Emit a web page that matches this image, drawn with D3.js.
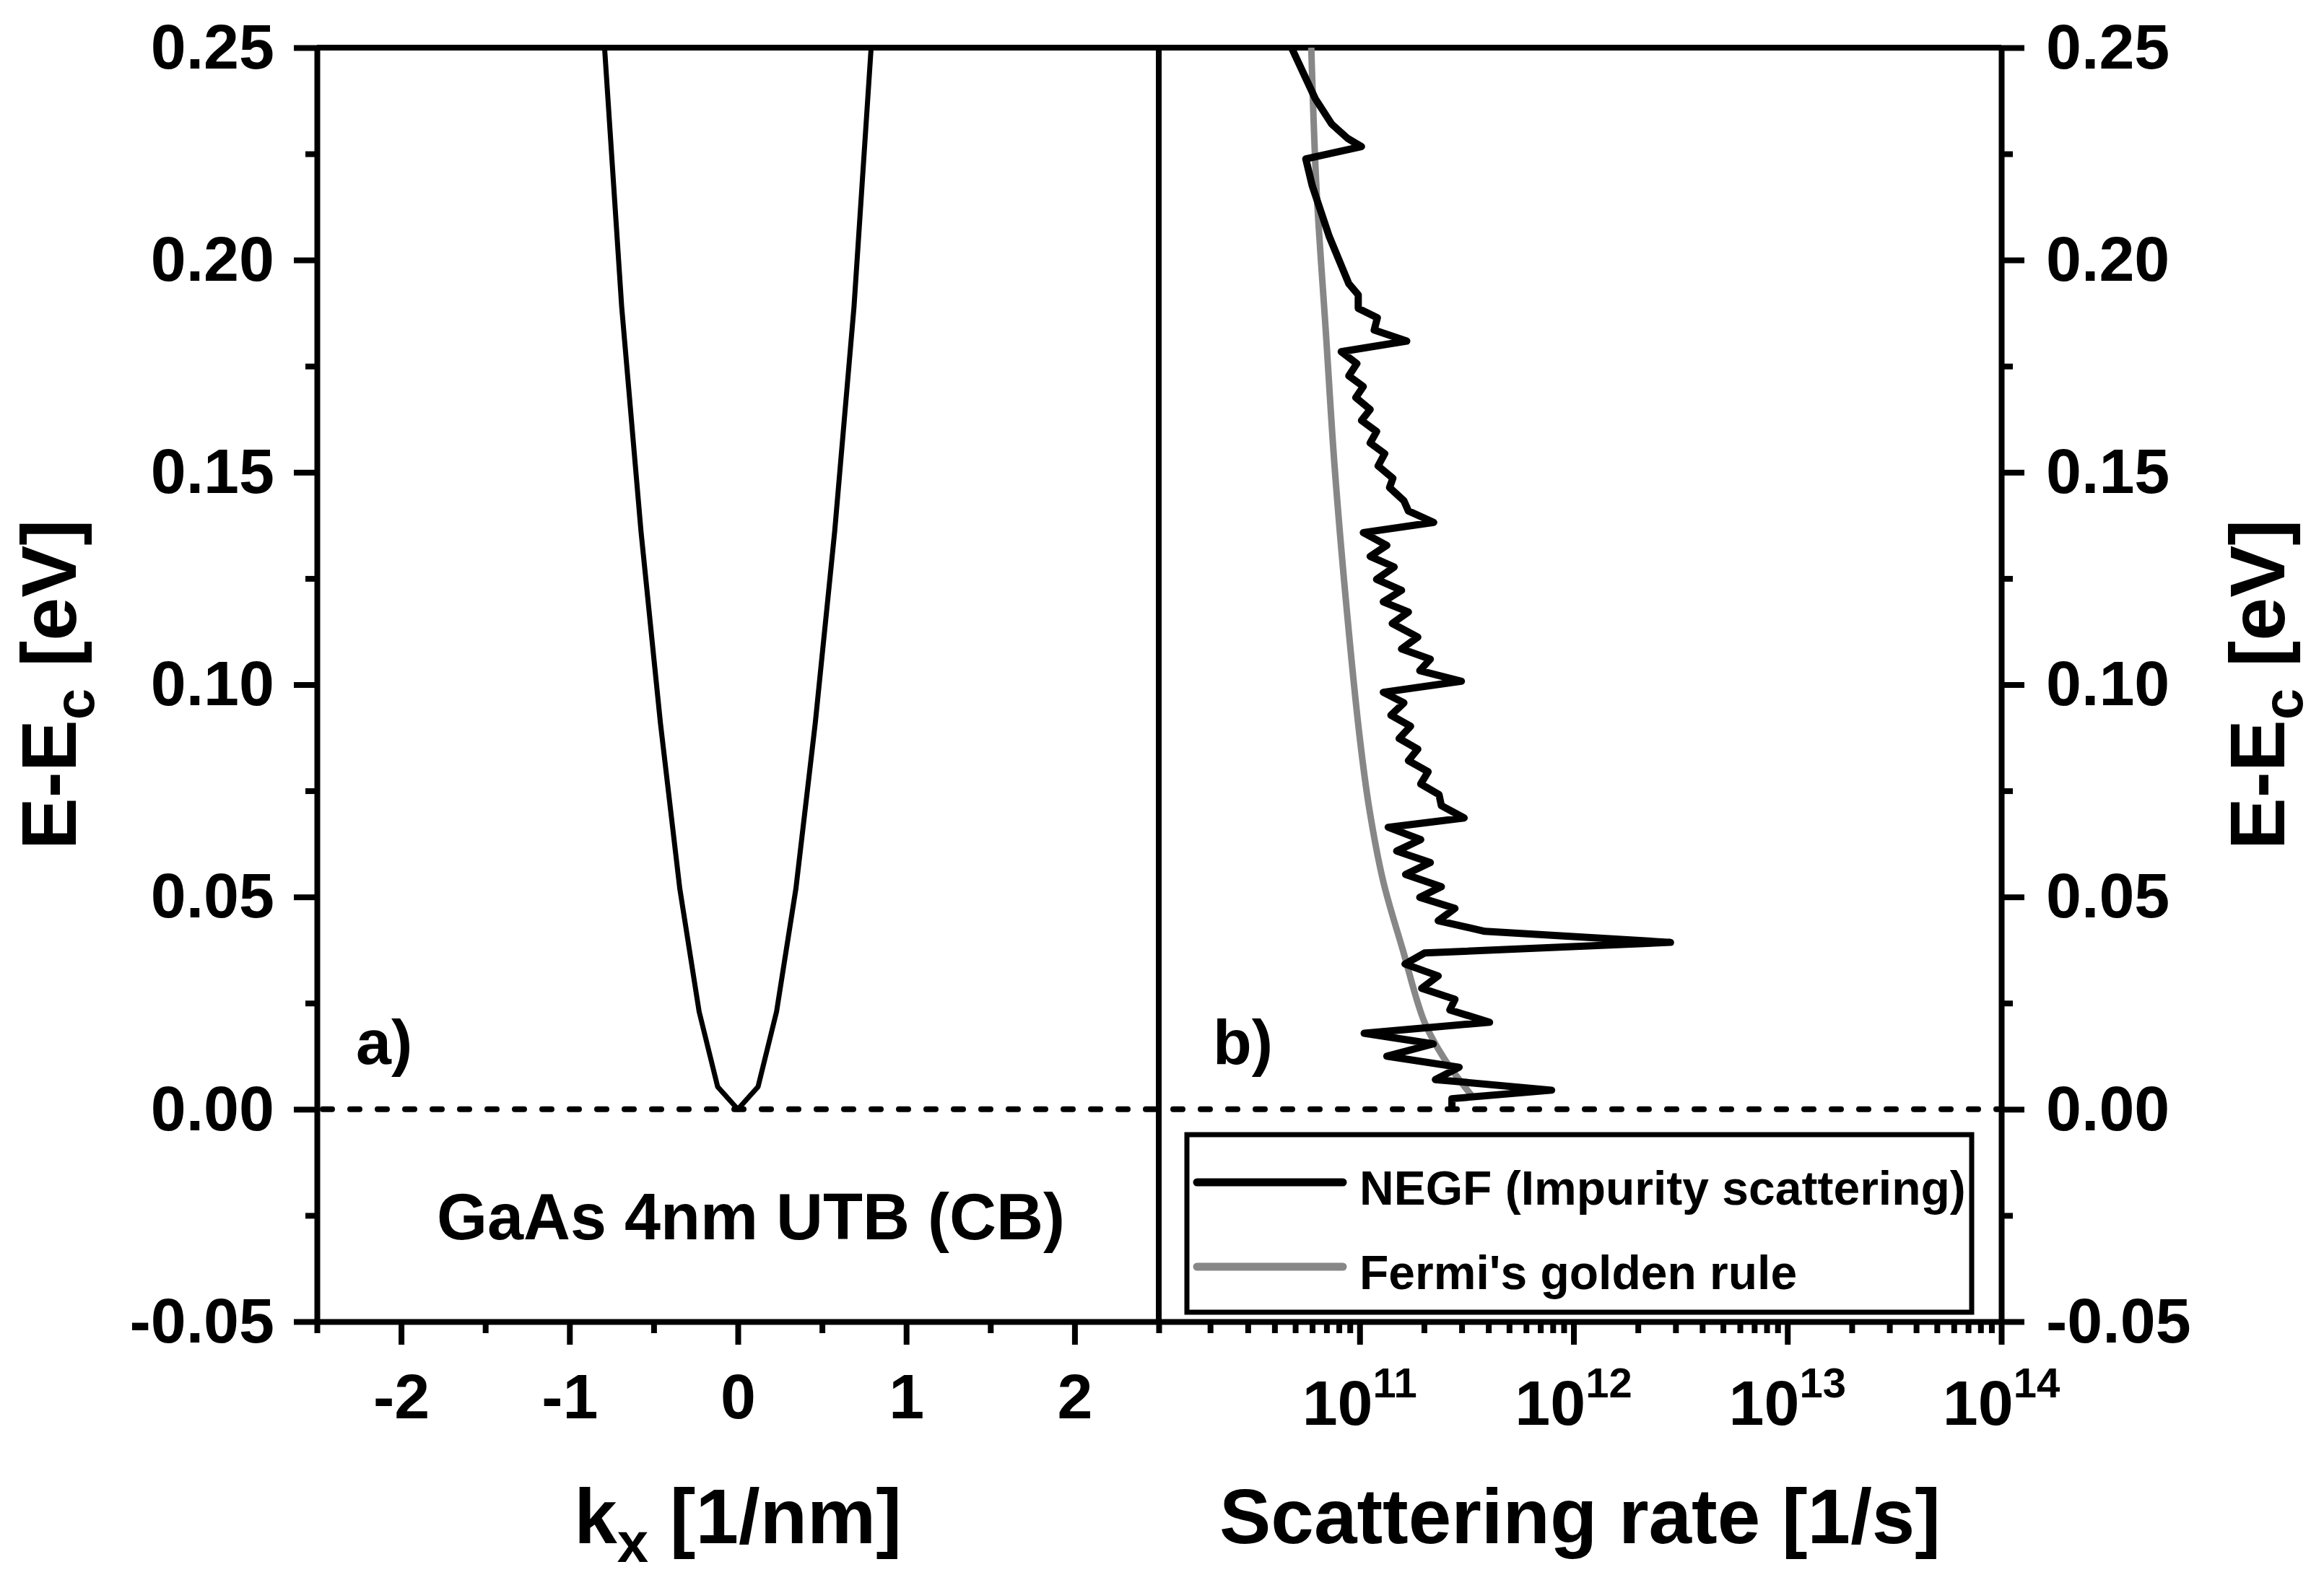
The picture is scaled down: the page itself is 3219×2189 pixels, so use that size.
<!DOCTYPE html>
<html>
<head>
<meta charset="utf-8">
<script src="https://cdn.jsdelivr.net/npm/d3@7"></script>
<style>
  body { margin: 0; background: #fff; }
  text { font-family: "Liberation Sans", Arial, sans-serif; font-weight: bold; }
</style>
</head>
<body>
<div id="chart"></div>
<script>
// ---- data ----
// a) band dispersion (CB, GaAs 4nm UTB)
var bandK = [-0.80, -0.69, -0.575, -0.46, -0.345, -0.23, -0.12, 0, 0.12, 0.23, 0.345, 0.46, 0.575, 0.69, 0.80];
var bandE = [0.255, 0.189, 0.136, 0.091, 0.052, 0.023, 0.0053, 0, 0.0053, 0.023, 0.052, 0.091, 0.136, 0.189, 0.255];

// b) NEGF impurity scattering rate
var negfE = [0.250, 0.238, 0.232, 0.2286, 0.2267, 0.2238, 0.2175, 0.2056, 0.1944, 0.1918,
             0.1886, 0.1864, 0.1835, 0.1809, 0.1784, 0.1756, 0.1727, 0.1702, 0.1676, 0.1648,
             0.1622, 0.1596, 0.1569, 0.1544, 0.1515, 0.1486, 0.1464, 0.1433, 0.1409, 0.1382,
             0.1358, 0.1328, 0.1302, 0.1277, 0.1248, 0.1222, 0.1195, 0.1171, 0.1144, 0.1112,
             0.1084, 0.1060, 0.1033, 0.1008, 0.0982, 0.0957, 0.0928, 0.0902, 0.0873, 0.0848,
             0.0821, 0.0795, 0.0766, 0.0741, 0.0715, 0.0686, 0.0664, 0.0635, 0.0608, 0.0581,
             0.0553, 0.0524, 0.0499, 0.0473, 0.0444, 0.0419, 0.0393, 0.0368, 0.0342, 0.0314,
             0.0285, 0.0259, 0.0234, 0.0205, 0.0179, 0.0154, 0.0125, 0.0099, 0.0070, 0.0045,
             0.0025, 0.0000];
var negfRate = [4.8e10, 6.2e10, 7.4e10, 8.8e10, 1.02e11, 5.6e10, 6.0e10, 7.2e10, 8.9e10, 9.85e10,
                9.85e10, 1.21e11, 1.17e11, 1.66e11, 8.2e10, 9.7e10, 8.9e10, 1.04e11, 9.6e10, 1.12e11,
                1.02e11, 1.20e11, 1.12e11, 1.31e11, 1.22e11, 1.43e11, 1.38e11, 1.61e11, 1.69e11, 2.22e11,
                1.04e11, 1.34e11, 1.12e11, 1.45e11, 1.20e11, 1.57e11, 1.29e11, 1.69e11, 1.42e11, 1.87e11,
                1.57e11, 2.14e11, 1.91e11, 2.99e11, 1.29e11, 1.61e11, 1.40e11, 1.73e11, 1.53e11, 1.87e11,
                1.69e11, 2.09e11, 1.93e11, 2.35e11, 2.41e11, 3.08e11, 1.36e11, 1.93e11, 1.49e11, 2.14e11,
                1.64e11, 2.41e11, 1.91e11, 2.79e11, 2.33e11, 3.85e11, 2.84e12, 2.01e11, 1.63e11, 2.33e11,
                1.95e11, 2.79e11, 2.64e11, 4.05e11, 1.05e11, 2.21e11, 1.34e11, 2.92e11, 2.26e11, 7.9e11,
                2.7e11, 2.7e11];

// b) Fermi's golden rule
var fgrE = [0.25, 0.217, 0.183, 0.152, 0.118, 0.0877, 0.0707, 0.0536, 0.0376, 0.0205, 0.012, 0.0033];
var fgrRate = [5.94e10, 6.28e10, 6.95e10, 7.62e10, 8.69e10, 1.0e11, 1.11e11, 1.29e11, 1.59e11, 2.01e11, 2.48e11, 3.33e11];

var energyTicks = [-0.05, 0, 0.05, 0.10, 0.15, 0.20, 0.25];
var energyMinor = [-0.025, 0.025, 0.075, 0.125, 0.175, 0.225];
var kTicks = [-2, -1, 0, 1, 2];
var kMinor = [-2.5, -1.5, -0.5, 0.5, 1.5, 2.5];
var rateTicks = [1e11, 1e12, 1e13, 1e14];
var rateExp = ["11", "12", "13", "14"];

// ---- layout ----
var svgWidth = 3219;
var svgHeight = 2189;
var plotTop = 66, plotBottom = 1831;
var leftX0 = 439, splitX = 1605, rightX1 = 2772;
var lw = 8;

var svg = d3.select("#chart").append("svg")
  .attr("width", svgWidth)
  .attr("height", svgHeight);

var y = d3.scaleLinear().domain([-0.05, 0.25]).range([plotBottom, plotTop]);
var xK = d3.scaleLinear().domain([-2.5, 2.5]).range([leftX0, splitX]);
var xR = d3.scaleLog().domain([1.15e10, 1e14]).range([splitX, rightX1]);

var rateMinor = [];
[1e10, 1e11, 1e12, 1e13].forEach(function(dec) {
  for (var m = 2; m <= 9; m++) {
    var v = m * dec;
    if (v > 1.15e10 && v < 1e14) rateMinor.push(v);
  }
});

var defs = svg.append("defs");
defs.append("clipPath").attr("id", "clipA")
  .append("rect").attr("x", leftX0).attr("y", plotTop)
  .attr("width", splitX - leftX0).attr("height", plotBottom - plotTop);
defs.append("clipPath").attr("id", "clipB")
  .append("rect").attr("x", splitX).attr("y", plotTop)
  .attr("width", rightX1 - splitX).attr("height", plotBottom - plotTop);

function styleAxis(g, fontSize) {
  g.attr("font-family", null).attr("font-size", null);
  g.select(".domain").attr("stroke-width", lw);
  g.selectAll(".tick line").attr("stroke-width", lw);
  g.selectAll(".tick text")
    .attr("font-size", fontSize)
    .attr("fill", "#000");
}

// left y axis
var gyl = svg.append("g").attr("transform", "translate(" + leftX0 + ",0)")
  .call(d3.axisLeft(y).tickValues(energyTicks).tickSize(32).tickSizeOuter(0).tickPadding(27)
    .tickFormat(function(d) { return d.toFixed(2); }));
styleAxis(gyl, 88);
svg.append("g").attr("transform", "translate(" + leftX0 + ",0)")
  .call(d3.axisLeft(y).tickValues(energyMinor).tickSize(16).tickSizeOuter(0).tickFormat(""))
  .call(function(g) { styleAxis(g, 88); g.select(".domain").remove(); });

// right y axis
var gyr = svg.append("g").attr("transform", "translate(" + rightX1 + ",0)")
  .call(d3.axisRight(y).tickValues(energyTicks).tickSize(32).tickSizeOuter(0).tickPadding(30)
    .tickFormat(function(d) { return d.toFixed(2); }));
styleAxis(gyr, 88);
svg.append("g").attr("transform", "translate(" + rightX1 + ",0)")
  .call(d3.axisRight(y).tickValues(energyMinor).tickSize(16).tickSizeOuter(0).tickFormat(""))
  .call(function(g) { styleAxis(g, 88); g.select(".domain").remove(); });

// bottom axis a)
var gxk = svg.append("g").attr("transform", "translate(0," + plotBottom + ")")
  .call(d3.axisBottom(xK).tickValues(kTicks).tickSize(32).tickSizeOuter(0).tickPadding(40)
    .tickFormat(function(d) { return String(d); }));
styleAxis(gxk, 88);
svg.append("g").attr("transform", "translate(0," + plotBottom + ")")
  .call(d3.axisBottom(xK).tickValues(kMinor).tickSize(16).tickSizeOuter(0).tickFormat(""))
  .call(function(g) { styleAxis(g, 88); g.select(".domain").remove(); });

// bottom axis b) (log)
var gxr = svg.append("g").attr("transform", "translate(0," + plotBottom + ")")
  .call(d3.axisBottom(xR).tickValues(rateTicks).tickSize(32).tickSizeOuter(0).tickFormat(""));
styleAxis(gxr, 88);
svg.append("g").attr("transform", "translate(0," + plotBottom + ")")
  .call(d3.axisBottom(xR).tickValues(rateMinor).tickSize(16).tickSizeOuter(0).tickFormat(""))
  .call(function(g) { styleAxis(g, 88); g.select(".domain").remove(); });

var logLabels = svg.append("g").selectAll("text")
  .data(rateTicks)
  .enter()
  .append("text")
  .attr("x", function(d) { return xR(d); })
  .attr("y", 1974)
  .attr("text-anchor", "middle")
  .attr("font-size", 88);
logLabels.append("tspan").text("10");
logLabels.append("tspan")
  .attr("font-size", 58)
  .attr("dy", -38)
  .text(function(d, i) { return rateExp[i]; });

// top line and panel divider
svg.append("line")
  .attr("x1", leftX0).attr("x2", rightX1)
  .attr("y1", y(0.25)).attr("y2", y(0.25))
  .attr("stroke", "#000").attr("stroke-width", lw);
svg.append("line")
  .attr("x1", splitX).attr("x2", splitX)
  .attr("y1", y(0.25)).attr("y2", y(-0.05))
  .attr("stroke", "#000").attr("stroke-width", lw);

// dashed E = Ec reference
svg.append("line")
  .attr("x1", xK(-2.5) + 8).attr("x2", xR(1e14) - 4)
  .attr("y1", y(0)).attr("y2", y(0))
  .attr("stroke", "#000")
  .attr("stroke-width", 8)
  .attr("stroke-linecap", "round")
  .attr("stroke-dasharray", "13,25");

// a) dispersion
var bandLine = d3.line()
  .x(function(d, i) { return xK(bandK[i]); })
  .y(function(d, i) { return y(bandE[i]); });
svg.append("path")
  .attr("clip-path", "url(#clipA)")
  .attr("d", bandLine(bandK))
  .attr("fill", "none")
  .attr("stroke", "#000")
  .attr("stroke-width", 7)
  .attr("stroke-linejoin", "round");

// b) rates
var fgrLine = d3.line()
  .x(function(d, i) { return xR(fgrRate[i]); })
  .y(function(d, i) { return y(fgrE[i]); })
  .curve(d3.curveCatmullRom);
svg.append("path")
  .attr("clip-path", "url(#clipB)")
  .attr("d", fgrLine(fgrE))
  .attr("fill", "none")
  .attr("stroke", "#878787")
  .attr("stroke-width", 9);

var negfLine = d3.line()
  .x(function(d, i) { return xR(negfRate[i]); })
  .y(function(d, i) { return y(negfE[i]); });
svg.append("path")
  .attr("clip-path", "url(#clipB)")
  .attr("d", negfLine(negfE))
  .attr("fill", "none")
  .attr("stroke", "#000")
  .attr("stroke-width", 10)
  .attr("stroke-linejoin", "round");

// panel labels
svg.append("text").attr("x", 493).attr("y", 1474).attr("font-size", 88).text("a)");
svg.append("text").attr("x", 1680).attr("y", 1474).attr("font-size", 88).text("b)");
svg.append("text").attr("x", 1040).attr("y", 1717).attr("font-size", 90)
  .attr("text-anchor", "middle").text("GaAs 4nm UTB (CB)");

// legend
var legend = svg.append("g");
legend.append("rect")
  .attr("x", 1644).attr("y", 1572).attr("width", 1087).attr("height", 246)
  .attr("fill", "#fff").attr("stroke", "#000").attr("stroke-width", 7);
var legendItems = [
  { name: "NEGF (Impurity scattering)", color: "#000", y: 1638 },
  { name: "Fermi's golden rule", color: "#878787", y: 1755 }
];
legendItems.forEach(function(item) {
  legend.append("line")
    .attr("x1", 1658).attr("x2", 1860)
    .attr("y1", item.y).attr("y2", item.y)
    .attr("stroke", item.color).attr("stroke-width", 11)
    .attr("stroke-linecap", "round");
  legend.append("text")
    .attr("x", 1883).attr("y", item.y + 31)
    .attr("font-size", 66)
    .text(item.name);
});

// axis titles
function energyTitle(x) {
  var t = svg.append("text")
    .attr("transform", "translate(" + x + "," + ((plotTop + plotBottom) / 2) + ") rotate(-90)")
    .attr("text-anchor", "middle")
    .attr("font-size", 108);
  t.append("tspan").text("E-E");
  t.append("tspan").attr("font-size", 78).attr("dy", 25).text("c");
  t.append("tspan").attr("dy", -25).text(" [eV]");
}
energyTitle(105);
energyTitle(3164);

var kt = svg.append("text")
  .attr("x", (leftX0 + splitX) / 2).attr("y", 2138)
  .attr("text-anchor", "middle").attr("font-size", 107);
kt.append("tspan").text("k");
kt.append("tspan").attr("font-size", 78).attr("dy", 26).text("x");
kt.append("tspan").attr("dy", -26).text(" [1/nm]");

svg.append("text")
  .attr("x", (splitX + rightX1) / 2).attr("y", 2138)
  .attr("text-anchor", "middle").attr("font-size", 107)
  .text("Scattering rate [1/s]");
</script>
</body>
</html>
